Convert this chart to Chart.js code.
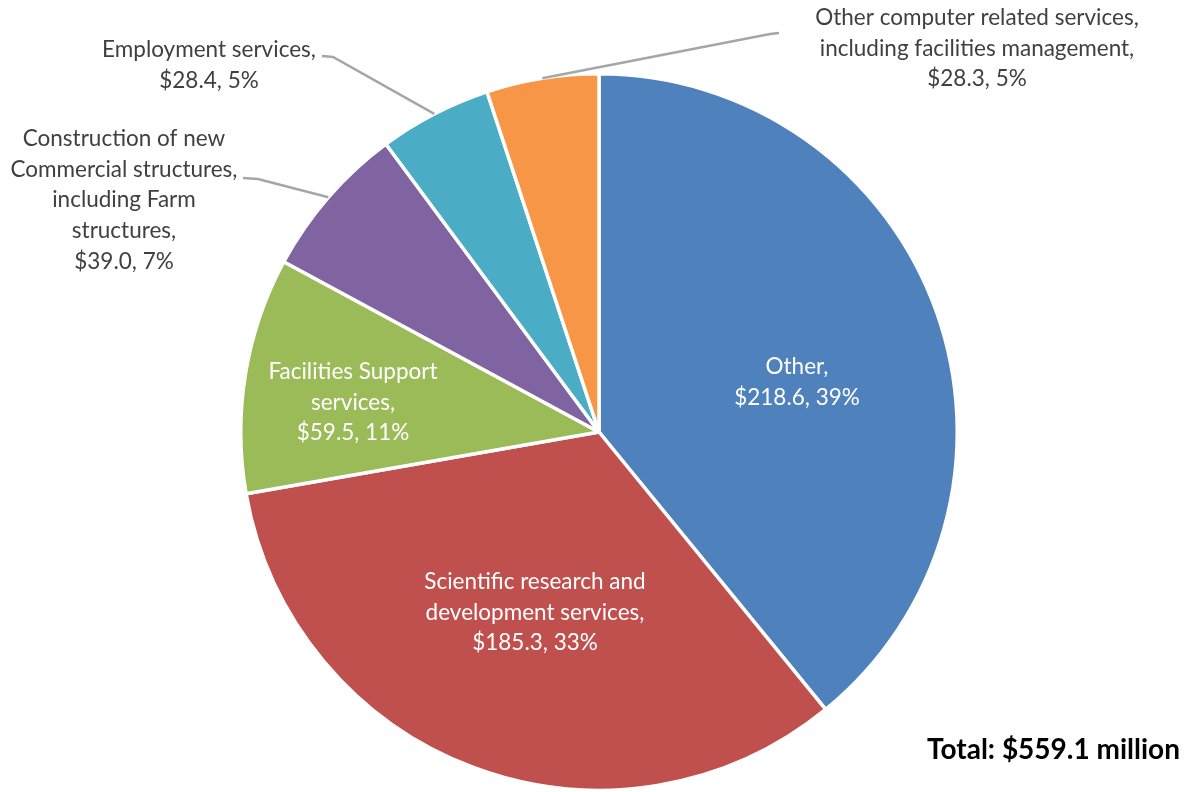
<!DOCTYPE html>
<html>
<head>
<meta charset="utf-8">
<script src="https://cdn.jsdelivr.net/npm/chart.js@4/dist/chart.umd.min.js"></script>
<style>
  html, body { margin: 0; padding: 0; background: #fff; }
  #wrap { width: 1188px; height: 792px; position: relative; }
</style>
</head>
<body>
<div id="wrap"><canvas id="pie" width="1188" height="792"></canvas></div>
<script>
// Obligations by service category, $ millions
const categories = [
  "Other",
  "Scientific research and development services",
  "Facilities Support services",
  "Construction of new Commercial structures, including Farm structures",
  "Employment services",
  "Other computer related services, including facilities management"
];
const amounts = [218.6, 185.3, 59.5, 39.0, 28.4, 28.3];
// How each category name wraps in its label
const nameLines = [
  ["Other,"],
  ["Scientific research and", "development services,"],
  ["Facilities Support", "services,"],
  ["Construction of new", "Commercial structures,", "including Farm", "structures,"],
  ["Employment services,"],
  ["Other computer related services,", "including facilities management,"]
];
const colors = ["#4F81BD", "#C0504D", "#9BBB59", "#8064A2", "#4BACC6", "#F79646"];

const total = amounts.reduce((a, b) => a + b, 0);

// Label placement: centre of the first text line, and for outside labels the leader elbow
const labelLayout = [
  { x: 797, y: 367, inside: true },
  { x: 535, y: 582, inside: true },
  { x: 353, y: 372, inside: true },
  { x: 124, y: 139, inside: false, elbow: [[243, 178], [258, 179]] },
  { x: 209, y: 50,  inside: false, elbow: [[322, 56], [333, 57]] },
  { x: 977, y: 18,  inside: false, elbow: [[779, 33], [770, 34]] }
];

const FONT = "Lato, 'Open Sans', sans-serif";
const LINE_H = 30.6;

const sliceLabels = {
  id: 'sliceLabels',
  afterDatasetsDraw(chart) {
    const ctx = chart.ctx;
    const meta = chart.getDatasetMeta(0);
    ctx.save();
    meta.data.forEach((arc, i) => {
      const v = amounts[i];
      const pct = Math.round(v / total * 100);
      const lines = nameLines[i].concat(["$" + v.toFixed(1) + ", " + pct + "%"]);
      const lay = labelLayout[i];
      if (!lay.inside) {
        // leader line from the slice's outer edge to the label
        const mid = (arc.startAngle + arc.endAngle) / 2;
        const ex = arc.x + Math.cos(mid) * arc.outerRadius;
        const ey = arc.y + Math.sin(mid) * arc.outerRadius;
        ctx.beginPath();
        ctx.moveTo(lay.elbow[0][0], lay.elbow[0][1]);
        ctx.lineTo(lay.elbow[1][0], lay.elbow[1][1]);
        ctx.lineTo(ex, ey);
        ctx.strokeStyle = "#A6A6A6";
        ctx.lineWidth = 2.5;
        ctx.stroke();
      }
      ctx.font = "22.5px " + FONT;
      ctx.fillStyle = lay.inside ? "#FFFFFF" : "#404040";
      ctx.textAlign = "center";
      ctx.textBaseline = "middle";
      lines.forEach((t, k) => ctx.fillText(t, lay.x, lay.y + k * LINE_H));
    });
    // total
    ctx.font = "bold 28px " + FONT;
    ctx.fillStyle = "#000";
    ctx.textAlign = "right";
    ctx.textBaseline = "middle";
    ctx.fillText("Total: $" + total.toFixed(1) + " million", 1180, 750);
    ctx.restore();
  }
};

new Chart(document.getElementById('pie'), {
  type: 'pie',
  data: {
    labels: categories,
    datasets: [{
      data: amounts,
      backgroundColor: colors,
      borderColor: "#FFFFFF",
      borderWidth: 3.5
    }]
  },
  options: {
    responsive: false,
    animation: false,
    layout: { padding: { top: 72, bottom: 0, left: 239, right: 229 } },
    plugins: {
      legend: { display: false },
      tooltip: { enabled: false }
    }
  },
  plugins: [sliceLabels]
});
</script>
</body>
</html>
